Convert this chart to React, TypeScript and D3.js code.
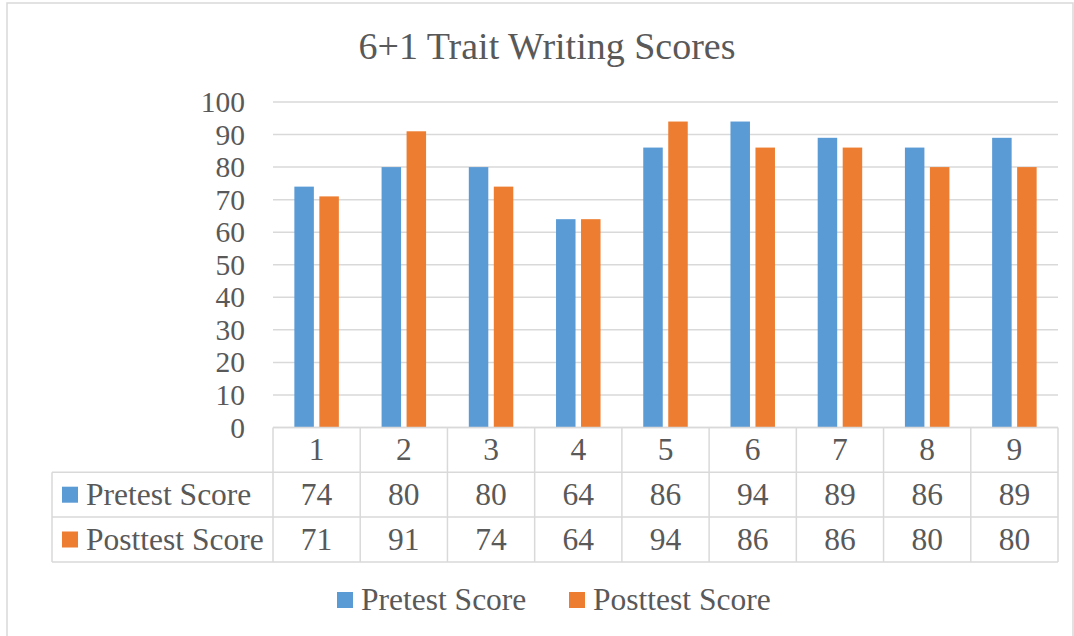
import * as d3 from "d3";
import { useEffect } from "react";

const categories = ["1", "2", "3", "4", "5", "6", "7", "8", "9"];
const pretest = [74, 80, 80, 64, 86, 94, 89, 86, 89];
const posttest = [71, 91, 74, 64, 94, 86, 86, 80, 80];
const seriesNames = ["Pretest Score", "Posttest Score"];
const seriesColors = ["#5B9BD5", "#ED7D31"];
const yTicks = [0, 10, 20, 30, 40, 50, 60, 70, 80, 90, 100];

export default function App() {
    useEffect(() => {
        document.body.style.margin = "0";
    }, []);

    const width = 1074;
    const height = 636;
    const plot = { left: 273, right: 1058, top: 102, bottom: 427.5 };
    const rowH = 44.8;
    const tableLeft = 52;
    const font = "Liberation Serif";
    const textColor = "#595959";
    const lineColor = "#D9D9D9";

    const x = d3.scaleBand().domain(categories).range([plot.left, plot.right]).padding(0);
    const y = d3.scaleLinear().domain([0, 100]).range([plot.bottom, plot.top]);

    const barW = 19.5;
    const gap = 5.5;
    const inner = d3
        .scaleOrdinal<string, number>()
        .domain(seriesNames)
        .range([-(barW + gap / 2), gap / 2]);

    const values = [pretest, posttest];
    const rowY = (i: number) => plot.bottom + i * rowH;

    return (
        <svg width={width} height={height} fontFamily={font} style={{ display: "block" }}>
            <rect x={0} y={0} width={width} height={height} fill="#fff" />
            <rect x={7} y={3} width={1066} height={650} fill="none" stroke={lineColor} strokeWidth={1.5} />

            {/* Title */}
            <text x={547} y={59} textAnchor="middle" fontSize={38} fill={textColor} fontFamily={font}>
                6+1 Trait Writing Scores
            </text>

            {/* Gridlines */}
            {yTicks.map((t) => (
                <line key={t} x1={plot.left} x2={plot.right} y1={y(t)} y2={y(t)} stroke={lineColor} strokeWidth={1.5} />
            ))}

            {/* Y tick labels */}
            {yTicks.map((t) => (
                <text key={t} x={245} y={y(t) + 10} textAnchor="end" fontSize={29.5} fill={textColor} fontFamily={font}>
                    {t}
                </text>
            ))}

            {/* Bars */}
            {seriesNames.map((s, si) => (
                <g key={s} fill={seriesColors[si]}>
                    {categories.map((c, ci) => {
                        const cx = x(c)! + x.bandwidth() / 2;
                        return (
                            <rect
                                key={c}
                                x={cx + inner(s)}
                                y={y(values[si][ci])}
                                width={barW}
                                height={y(0) - y(values[si][ci])}
                            />
                        );
                    })}
                </g>
            ))}

            {/* Data table lines */}
            <g stroke={lineColor} strokeWidth={1.5}>
                <line x1={plot.left} x2={plot.right} y1={rowY(0)} y2={rowY(0)} />
                {[1, 2, 3].map((r) => (
                    <line key={r} x1={tableLeft} x2={plot.right} y1={rowY(r)} y2={rowY(r)} />
                ))}
                <line x1={tableLeft} x2={tableLeft} y1={rowY(1)} y2={rowY(3)} />
                {categories.map((c) => (
                    <line key={c} x1={x(c)!} x2={x(c)!} y1={rowY(0)} y2={rowY(3)} />
                ))}
                <line x1={plot.right} x2={plot.right} y1={rowY(0)} y2={rowY(3)} />
            </g>

            {/* Category labels */}
            {categories.map((c) => (
                <text key={c} x={x(c)! + x.bandwidth() / 2} y={rowY(0) + rowH / 2 + 10.5} textAnchor="middle" fontSize={31.5} fill={textColor} fontFamily={font}>
                    {c}
                </text>
            ))}

            {/* Series rows */}
            {seriesNames.map((s, si) => (
                <g key={s}>
                    <rect x={62} y={rowY(si + 1) + rowH / 2 - 8} width={16} height={16} fill={seriesColors[si]} />
                    <text x={86} y={rowY(si + 1) + rowH / 2 + 10.5} fontSize={31.5} fill={textColor} fontFamily={font}>
                        {s}
                    </text>
                    {categories.map((c, ci) => (
                        <text key={c} x={x(c)! + x.bandwidth() / 2} y={rowY(si + 1) + rowH / 2 + 10.5} textAnchor="middle" fontSize={31.5} fill={textColor} fontFamily={font}>
                            {values[si][ci]}
                        </text>
                    ))}
                </g>
            ))}

            {/* Legend */}
            {seriesNames.map((s, si) => {
                const lx = si === 0 ? 337 : 569;
                return (
                    <g key={s}>
                        <rect x={lx} y={592} width={16} height={16} fill={seriesColors[si]} />
                        <text x={lx + 24} y={610} fontSize={31.5} fill={textColor} fontFamily={font}>
                            {s}
                        </text>
                    </g>
                );
            })}
        </svg>
    );
}
